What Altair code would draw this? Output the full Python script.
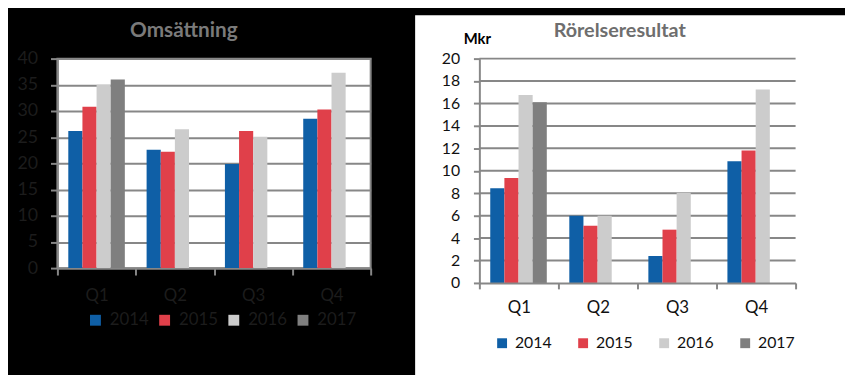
import altair as alt
import pandas as pd

quarters = ["Q1", "Q2", "Q3", "Q4"]
years = ["2014", "2015", "2016", "2017"]
colors = ["#0f5fa6", "#e0404a", "#cccccc", "#7f7f7f"]

# Omsättning
oms_2014 = [26.2, 22.6, 19.9, 28.5]
oms_2015 = [30.8, 22.2, 26.2, 30.3]
oms_2016 = [35.0, 26.5, 25.1, 37.3]
oms_2017 = [36.0, None, None, None]
oms_ticks = [0, 5, 10, 15, 20, 25, 30, 35, 40]

# Rörelseresultat (Mkr)
rr_2014 = [8.45, 6.0, 2.4, 10.85]
rr_2015 = [9.35, 5.1, 4.75, 11.8]
rr_2016 = [16.75, 6.0, 8.05, 17.25]
rr_2017 = [16.1, None, None, None]
rr_ticks = [0, 2, 4, 6, 8, 10, 12, 14, 16, 18, 20]

FONT = "Lato"
GRID = "#878787"


def make_df(series):
    rows = []
    for y, vals in zip(years, series):
        for q, v in zip(quarters, vals):
            if v is not None:
                rows.append({"quarter": q, "year": y, "value": v})
    return pd.DataFrame(rows)


df_left = make_df([oms_2014, oms_2015, oms_2016, oms_2017])
df_right = make_df([rr_2014, rr_2015, rr_2016, rr_2017])

# ---------------- Left panel ----------------
LW, LH = 317, 212
LTXT = "#1c1c1c"

left_box = alt.Chart(pd.DataFrame({"a": [1]})).mark_rect(opacity=0).encode(
    x=alt.value(-49), x2=alt.value(356), y=alt.value(-48), y2=alt.value(319)
)

left_bars = alt.Chart(df_left).mark_bar().encode(
    x=alt.X("quarter:N", sort=quarters,
            scale=alt.Scale(domain=quarters, paddingInner=0, paddingOuter=0),
            axis=alt.Axis(title=None, labelAngle=0, tickBand="extent", tickSize=7,
                          labelPadding=13, labelFontSize=17, labelColor=LTXT,
                          labelFont=FONT, domainColor=GRID, tickColor=GRID,
                          domainWidth=2, tickWidth=2, grid=False)),
    xOffset=alt.XOffset("year:N", scale=alt.Scale(domain=years, paddingInner=0, paddingOuter=0.77)),
    y=alt.Y("value:Q", scale=alt.Scale(domain=[0, 40], nice=False),
            axis=alt.Axis(title=None, values=oms_ticks, tickSize=7, labelPadding=13,
                          labelFontSize=18, labelColor=LTXT, labelFont=FONT,
                          domainColor=GRID, tickColor=GRID, domainWidth=2, tickWidth=2,
                          grid=True, gridColor=GRID, gridWidth=2)),
    color=alt.Color("year:N", scale=alt.Scale(domain=years, range=colors),
                    legend=alt.Legend(title=None, orient="none", legendX=30, legendY=256,
                                      direction="horizontal", columns=4,
                                      symbolType="square", symbolSize=121,
                                      symbolStrokeWidth=0, labelFont=FONT,
                                      labelFontSize=17, labelColor=LTXT, labelOffset=6,
                                      columnPadding=7, padding=0)),
)

left_title = alt.Chart(pd.DataFrame({"t": ["Omsättning"]})).mark_text(
    align="center", baseline="middle", font=FONT, fontSize=21, fontWeight="bold",
    color="#7a7a7a"
).encode(x=alt.value(128), y=alt.value(-28), text="t:N")

left = alt.layer(left_box, left_bars, left_title).properties(
    width=LW, height=LH,
    view=alt.ViewBackground(fill="white", stroke=GRID, strokeWidth=2),
)

# ---------------- Right panel ----------------
RW, RH = 320, 227
RTXT = "#111111"

right_y_axis = alt.Axis(title=None, values=rr_ticks, tickSize=6, labelPadding=14,
                        labelFontSize=16, labelColor=RTXT, labelFont=FONT,
                        domainColor=GRID, tickColor=GRID, domainWidth=2, tickWidth=2,
                        grid=False, zindex=1)
right_y_scale = alt.Scale(domain=[0, 20], nice=False)

right_box = alt.Chart(pd.DataFrame({"a": [1]})).mark_rect(color="white").encode(
    x=alt.value(-65), x2=alt.value(370), y=alt.value(-44), y2=alt.value(323)
)

right_grid = alt.Chart(pd.DataFrame({"value": rr_ticks[1:]})).mark_rule(
    color=GRID, strokeWidth=2
).encode(
    y=alt.Y("value:Q", scale=right_y_scale, axis=right_y_axis),
    x=alt.value(0), x2=alt.value(RW),
)

right_bars = alt.Chart(df_right).mark_bar().encode(
    x=alt.X("quarter:N", sort=quarters,
            scale=alt.Scale(domain=quarters, paddingInner=0, paddingOuter=0),
            axis=alt.Axis(title=None, labelAngle=0, tickBand="extent", tickSize=6,
                          labelPadding=11, labelFontSize=17, labelColor=RTXT,
                          labelFont=FONT, domainColor=GRID, tickColor=GRID,
                          domainWidth=2, tickWidth=2, grid=False, zindex=1)),
    xOffset=alt.XOffset("year:N", scale=alt.Scale(domain=years, paddingInner=0, paddingOuter=0.77)),
    y=alt.Y("value:Q", scale=right_y_scale, axis=right_y_axis),
    color=alt.Color("year:N", scale=alt.Scale(domain=years, range=colors),
                    legend=alt.Legend(title=None, orient="none", legendX=15, legendY=280,
                                      direction="horizontal", columns=4,
                                      symbolType="square", symbolSize=100,
                                      symbolStrokeWidth=0, labelFont=FONT,
                                      labelFontSize=16, labelColor=RTXT, labelOffset=5,
                                      columnPadding=23, padding=0)),
)

right_title = alt.Chart(pd.DataFrame({"t": ["Rörelseresultat"]})).mark_text(
    align="center", baseline="middle", font=FONT, fontSize=20, fontWeight="bold",
    color="#6e6e6e"
).encode(x=alt.value(142), y=alt.value(-28), text="t:N")

right_unit = alt.Chart(pd.DataFrame({"t": ["Mkr"]})).mark_text(
    align="center", baseline="middle", font=FONT, fontSize=15, fontWeight="bold",
    color="#000000"
).encode(x=alt.value(-2), y=alt.value(-20), text="t:N")

right = alt.layer(right_box, right_grid, right_bars, right_title, right_unit).properties(
    width=RW, height=RH,
    view=alt.ViewBackground(fill="transparent", strokeWidth=0),
)

chart = alt.hconcat(left, right, spacing=5).resolve_legend(color="independent").properties(
    background="black", padding=0
).configure_view(strokeWidth=0).configure(font=FONT)

chart.save("out.html", embed_options={"renderer": "svg", "actions": False})
